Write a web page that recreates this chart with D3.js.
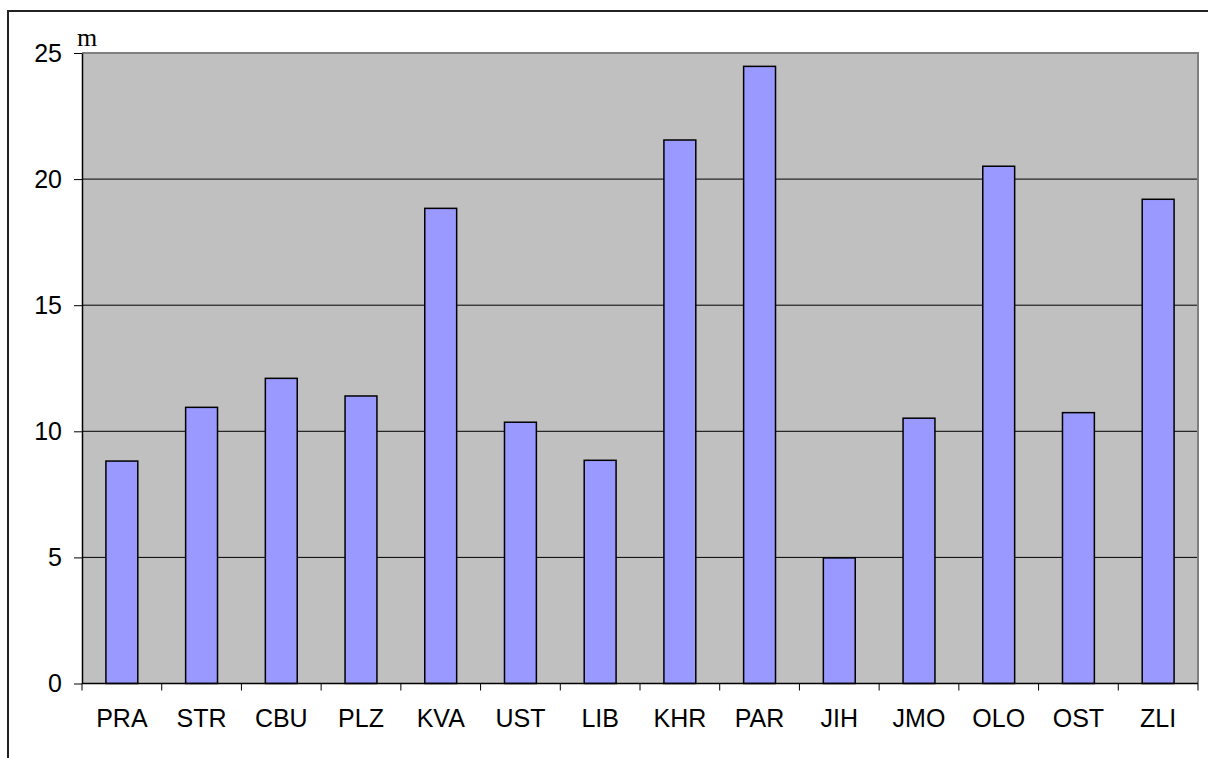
<!DOCTYPE html>
<html>
<head>
<meta charset="utf-8">
<script src="https://cdn.jsdelivr.net/npm/d3@7"></script>
<style>
  body { margin: 0; background: #fff; }
  .axis text { font-family: "Liberation Sans", Arial, sans-serif; font-size: 25px; fill: #000; }
</style>
</head>
<body>
<div id="chart"></div>
<script>
var regions = ["PRA", "STR", "CBU", "PLZ", "KVA", "UST", "LIB", "KHR", "PAR", "JIH", "JMO", "OLO", "OST", "ZLI"];
var values = [8.82, 10.95, 12.1, 11.4, 18.84, 10.36, 8.85, 21.55, 24.47, 4.98, 10.52, 20.51, 10.74, 19.2];
var yTicks = [0, 5, 10, 15, 20, 25];
var unitLabel = "m";

var width = 1208, height = 758;
var margin = {top: 53, right: 10, bottom: 74.5, left: 82};
var w = width - margin.left - margin.right;
var h = height - margin.top - margin.bottom;

var svg = d3.select("#chart").append("svg")
    .attr("width", width)
    .attr("height", height);

// outer frame (cut off at right and bottom)
svg.append("path")
    .attr("d", "M8,758 L8,11 L1208,11")
    .attr("fill", "none")
    .attr("stroke", "#222")
    .attr("stroke-width", 2);

var g = svg.append("g")
    .attr("transform", "translate(" + margin.left + "," + margin.top + ")");

var x = d3.scaleBand().domain(regions).range([0, w]).paddingInner(0.6).paddingOuter(0.3);
var xEdge = d3.scaleLinear().domain([0, regions.length]).range([0, w]);
var y = d3.scaleLinear().domain([0, 25]).range([h, 0]);

// plot background
g.append("rect")
    .attr("x", 0).attr("y", 0)
    .attr("width", w).attr("height", h)
    .attr("fill", "#c0c0c0");

// gridlines
g.selectAll(".grid")
    .data(yTicks.filter(function(d) { return d > 0 && d < 25; }))
  .enter().append("line")
    .attr("class", "grid")
    .attr("x1", 0).attr("x2", w)
    .attr("y1", function(d) { return y(d); })
    .attr("y2", function(d) { return y(d); })
    .attr("stroke", "#000")
    .attr("stroke-width", 1);

// top and right border of plot
g.append("path")
    .attr("d", "M0," + y(25) + " L" + w + "," + y(25) + " L" + w + "," + h)
    .attr("fill", "none")
    .attr("stroke", "#808080")
    .attr("stroke-width", 2);

// bars
g.selectAll(".bar")
    .data(values)
  .enter().append("rect")
    .attr("class", "bar")
    .attr("x", function(d, i) { return x(regions[i]); })
    .attr("width", x.bandwidth())
    .attr("y", function(d) { return y(d); })
    .attr("height", function(d) { return h - y(d); })
    .attr("fill", "#9999ff")
    .attr("stroke", "#000")
    .attr("stroke-width", 1.5);

// y axis
var yAxis = g.append("g")
    .attr("class", "axis")
    .call(d3.axisLeft(y).tickValues(yTicks).tickSizeInner(8).tickSizeOuter(0).tickPadding(12));
yAxis.select(".domain").attr("stroke", "#000").attr("stroke-width", 1.5);
yAxis.selectAll(".tick line").attr("stroke", "#000");

// x axis: labels centered, ticks at category edges
var xAxis = g.append("g")
    .attr("class", "axis")
    .attr("transform", "translate(0," + h + ")")
    .call(d3.axisBottom(x).tickSize(0).tickPadding(26));
xAxis.select(".domain").remove();

g.append("line")
    .attr("x1", 0).attr("x2", w)
    .attr("y1", h).attr("y2", h)
    .attr("stroke", "#000")
    .attr("stroke-width", 1.5);

g.selectAll(".xtick")
    .data(d3.range(regions.length + 1))
  .enter().append("line")
    .attr("class", "xtick")
    .attr("x1", function(d) { return xEdge(d); })
    .attr("x2", function(d) { return xEdge(d); })
    .attr("y1", h).attr("y2", h + 7)
    .attr("stroke", "#000");

// unit label
svg.append("text")
    .attr("x", 77)
    .attr("y", 46)
    .attr("font-family", "'Liberation Serif', 'Times New Roman', serif")
    .attr("font-size", 26)
    .text(unitLabel);
</script>
</body>
</html>
